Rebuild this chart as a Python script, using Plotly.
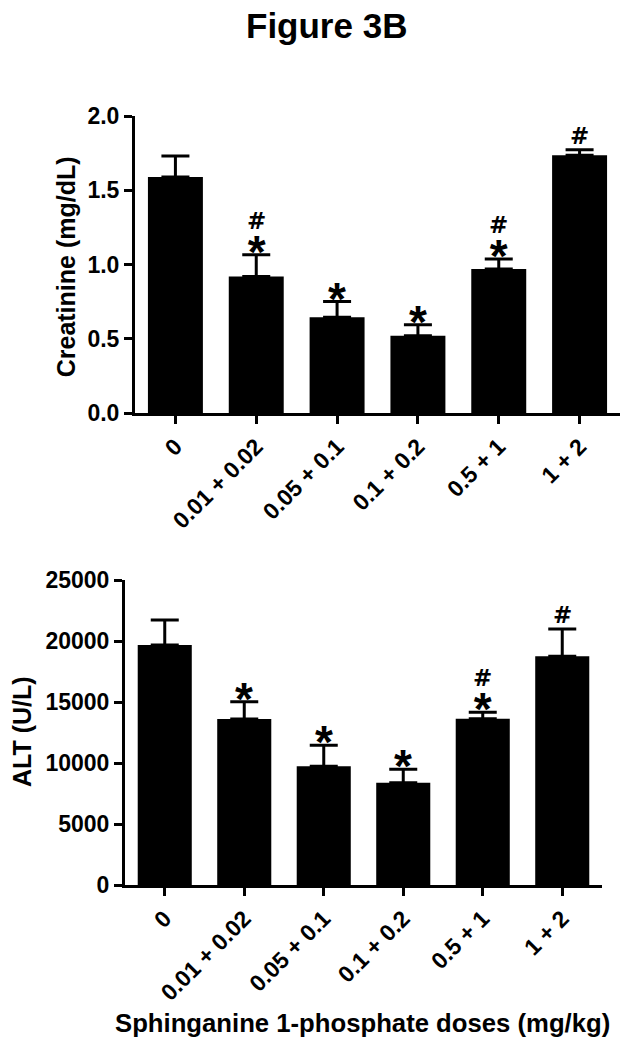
import plotly.graph_objects as go

W, H = 630, 1050

categories = ["0", "0.01 + 0.02", "0.05 + 0.1", "0.1 + 0.2", "0.5 + 1", "1 + 2"]

creat_mean = [1.59, 0.92, 0.645, 0.52, 0.97, 1.735]
creat_sem = [0.14, 0.145, 0.105, 0.075, 0.067, 0.038]
creat_star = [False, True, True, True, True, False]
creat_hash = [False, True, False, False, True, True]

alt_mean = [19680, 13610, 9730, 8390, 13630, 18740]
alt_sem = [2040, 1420, 1720, 1090, 520, 2240]
alt_star = [False, True, True, True, True, False]
alt_hash = [False, False, False, False, True, True]

FONT = "Liberation Sans"
BLACK = "#000000"

fig = go.Figure()

fig.add_trace(go.Bar(
    x=categories, y=creat_mean, width=0.68,
    marker=dict(color=BLACK, line=dict(width=0)),
    error_y=dict(type="data", array=creat_sem, arrayminus=[0] * len(creat_sem),
                 symmetric=False, color=BLACK, thickness=3, width=14),
    xaxis="x", yaxis="y", showlegend=False, hoverinfo="skip",
))
fig.add_trace(go.Bar(
    x=categories, y=alt_mean, width=0.68,
    marker=dict(color=BLACK, line=dict(width=0)),
    error_y=dict(type="data", array=alt_sem, arrayminus=[0] * len(alt_sem),
                 symmetric=False, color=BLACK, thickness=3, width=14),
    xaxis="x2", yaxis="y2", showlegend=False, hoverinfo="skip",
))

axis_common = dict(
    showgrid=False, zeroline=False, showline=True, linecolor=BLACK, linewidth=3,
    ticks="outside", ticklen=8, tickwidth=3, tickcolor=BLACK, automargin=False,
    tickfont=dict(family=FONT, size=23, color=BLACK, weight="bold"),
)

fig.update_layout(
    width=W, height=H, autosize=False,
    margin=dict(l=0, r=0, t=0, b=0, pad=0, autoexpand=False),
    paper_bgcolor="white", plot_bgcolor="white",
    xaxis=dict(domain=[135 / W, 620 / W], anchor="y", type="category",
               tickangle=-45, range=[-0.5, 5.5], **axis_common),
    yaxis=dict(domain=[1 - 413 / H, 1 - 116 / H], anchor="x", range=[0, 2.0],
               dtick=0.5, tickformat=".1f", **axis_common),
    xaxis2=dict(domain=[125 / W, 602 / W], anchor="y2", type="category",
                tickangle=-45, range=[-0.5, 5.5], **axis_common),
    yaxis2=dict(domain=[1 - 885 / H, 1 - 580 / H], anchor="x2", range=[0, 25000],
                dtick=5000, tickformat="d", **axis_common),
)

annotations = []

HASH = '<span style="font-family:DejaVu Sans;font-size:23px">#</span>'
STAR = '<span style="font-size:46px">*</span>'

def add_marks(xref, yref, means, sems, stars, hashes):
    for c, m, s, st, hs in zip(categories, means, sems, stars, hashes):
        top = m + s
        if st and hs:
            text, size, shift = HASH + "<br>" + STAR, 30, -25
        elif st:
            text, size, shift = STAR, 30, -25
        elif hs:
            text, size, shift = HASH, 23, -1
        else:
            continue
        annotations.append(dict(
            x=c, y=top, xref=xref, yref=yref, text=text, showarrow=False,
            yanchor="bottom", yshift=shift, align="center",
            font=dict(family=FONT, size=size, color=BLACK, weight="bold")))

add_marks("x", "y", creat_mean, creat_sem, creat_star, creat_hash)
add_marks("x2", "y2", alt_mean, alt_sem, alt_star, alt_hash)

annotations.append(dict(
    text="Figure 3B", x=326.7 / W, y=1 - 25.3 / H, xref="paper", yref="paper",
    showarrow=False, xanchor="center", yanchor="middle",
    font=dict(family=FONT, size=35, color=BLACK, weight="bold")))
annotations.append(dict(
    text="Creatinine (mg/dL)", x=66.3 / W, y=1 - 267 / H, xref="paper", yref="paper",
    showarrow=False, xanchor="center", yanchor="middle", textangle=-90,
    font=dict(family=FONT, size=25, color=BLACK, weight="bold")))
annotations.append(dict(
    text="ALT (U/L)", x=22 / W, y=1 - 732 / H, xref="paper", yref="paper",
    showarrow=False, xanchor="center", yanchor="middle", textangle=-90,
    font=dict(family=FONT, size=25, color=BLACK, weight="bold")))
annotations.append(dict(
    text="Sphinganine 1-phosphate doses (mg/kg)", x=363 / W, y=1 - 1022.8 / H,
    xref="paper", yref="paper", showarrow=False, xanchor="center", yanchor="middle",
    font=dict(family=FONT, size=25.7, color=BLACK, weight="bold")))

fig.update_layout(annotations=annotations)

fig.write_html("out.html", config={"displayModeBar": False},
               post_script="document.body.style.margin='0px';")
